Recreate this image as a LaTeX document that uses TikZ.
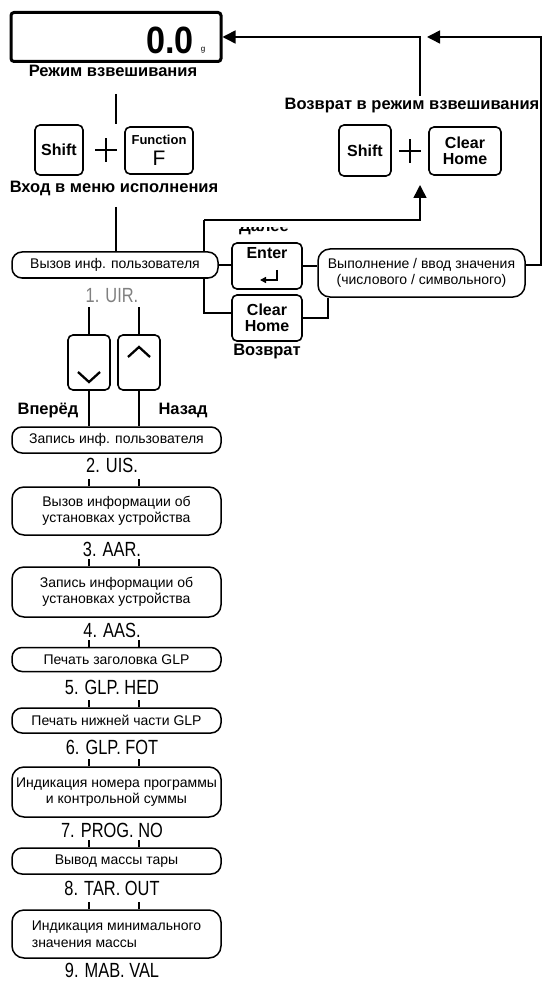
\documentclass[tikz,border=0pt]{standalone}
\usepackage{fontspec}
\usepackage{graphicx}
\setmainfont{Liberation Sans}
\usetikzlibrary{arrows.meta,calc}
\newcommand\cnd[1]{\scalebox{0.8}[1]{#1}}
\begin{document}
\begin{tikzpicture}[x=1pt,y=-1pt,line width=1.5pt,
  lbox/.style={draw,fill=white,rounded corners=10pt,minimum width=209pt,inner sep=0pt,align=center,font=\fontsize{14}{16.5}\selectfont},
  keybox/.style={draw,fill=white,rounded corners=5pt,inner sep=0pt,align=center,line width=1.6pt,font=\fontsize{16}{17.5}\bfseries\selectfont},
  lbl/.style={inner sep=0pt,font=\fontsize{20.5}{20.5}\selectfont},
  bl/.style={inner sep=0pt,font=\fontsize{16.5}{18}\bfseries\selectfont},
  tip/.style={-{Triangle[length=13pt,width=13pt]}},
  chev/.style={line width=2.3pt}]
\useasboundingbox (0,0) rectangle (542,981);

% display
\node[draw,line width=3pt,rounded corners=3pt,minimum width=210pt,minimum height=49pt] (disp) at (116,37) {};
\node[inner sep=0pt,font=\fontsize{38}{38}\bfseries\selectfont] (num) at (170,40) {\scalebox{0.9}[1]{0.0}};
\node[inner sep=0pt,font=\fontsize{8}{8}\selectfont] (gr) at (203,50) {g};
\node[bl] (mode) at (113,71) {Режим взвешивания};

% entry keys
\node[keybox,minimum width=48pt,minimum height=50pt] (sh1) at (59,150) {Shift};
\node[keybox,minimum width=68pt,minimum height=47pt] (fn) at (159,150.5) {\fontsize{13}{13}\selectfont Function\\[3pt]\fontsize{21}{21}\mdseries F};
\coordinate (p1) at (106,150);
\draw[line width=1.3pt] ([xshift=-11pt]p1) -- ([xshift=11pt]p1) ([yshift=-12pt]p1) -- ([yshift=12pt]p1);
\node[bl] (entry) at (114,188) {Вход в меню исполнения};
\coordinate (t1) at (116,94);
\coordinate (t2) at (116,124);
\coordinate (t3) at (116,207);
\draw (t1) -- (t2);

% return keys
\node[bl,inner sep=2pt] (ret) at (412,106) {Возврат в режим взвешивания};
\node[keybox,minimum width=52pt,minimum height=51pt] (sh2) at (365,150.5) {Shift};
\node[keybox,minimum width=72pt,minimum height=48pt] (ck1) at (465,151) {Clear\\[-2pt]Home};
\coordinate (p2) at (410,151);
\draw[line width=1.3pt] ([xshift=-11pt]p2) -- ([xshift=11pt]p2) ([yshift=-12pt]p2) -- ([yshift=12pt]p2);

% item 1 and its keys
\node[lbl,text=gray] (l1) at (112,296) {\cnd{1. UIR.}};
\node[keybox,minimum width=70pt,minimum height=46pt] (ent) at (267,266) {Enter\\[9pt]};
\draw[line width=1.6pt,-{Triangle[length=6pt,width=6pt]}] ([shift={(10,4)}]ent.center) -- ([shift={(10,14)}]ent.center) -- ([shift={(-7,14)}]ent.center);
\node[keybox,minimum width=70pt,minimum height=46pt] (ck2) at (267,318) {Clear\\[-2pt]Home};
\node[bl] (back) at (267,352) {Возврат};
\begin{scope}
\clip (225,228) rectangle (310,242);
\node[bl] (next) at (264,227) {Далее};
\end{scope}
\node[lbox,rounded corners=12pt,minimum width=207pt,minimum height=48pt] (vyp) at (421.5,273) {Выполнение / ввод значения\\(числового / символьного)};

\coordinate (lt) at (204,220);
\coordinate (ut) at (420,220);
\coordinate (ktip) at (420,185);
\coordinate (jn) at (420,37);
\coordinate (jn2) at (427,37);
\coordinate (tr) at (541,37);

\draw (lt) |- ([yshift=5pt]ck2.west);
\draw[tip] (lt) -- (ut) -- (ktip);
\node[lbox,minimum width=206pt,minimum height=26pt] (b0) at (115,265) {Вызов инф. пользователя};
\draw (t3) -- (b0.north -| t3);
\draw (b0.east) -- (b0.east -| ent.west);
\draw (ent.east) -- (ent.east -| vyp.west);
\draw (ck2.east) -| ([xshift=-93.5pt]vyp.south);
\draw[tip] ([yshift=8pt]vyp.east) -| (tr) -- (jn2);
\draw[tip] (ret.north -| jn) -- (jn) -- (disp.east);

% up/down keys
\node[keybox,minimum width=42pt,minimum height=55pt] (kd) at (89,362.5) {};
\node[keybox,minimum width=42pt,minimum height=55pt] (ku) at (139,362.5) {};
\draw[chev] ([shift={(-11,9.5)}]kd.center) -- ([shift={(0,19.5)}]kd.center) -- ([shift={(11,9.5)}]kd.center);
\draw[chev] ([shift={(-11,-5.5)}]ku.center) -- ([shift={(0,-15.5)}]ku.center) -- ([shift={(11,-5.5)}]ku.center);
\draw (kd.north) -- ++(0,-27);
\draw (ku.north) -- ++(0,-27);
\node[bl] (fwd) at (48,410) {Вперёд};
\node[bl] (bk) at (183,410) {Назад};

% list
\node[lbox,minimum height=26pt] (b1) at (116.5,440) {Запись инф. пользователя};
\draw (kd.south) -- (kd.south |- b1.north);
\draw (ku.south) -- (ku.south |- b1.north);
\node[lbl] (l2) at (112,465) {\cnd{2. UIS.}};
\node[lbox,rounded corners=12pt,minimum height=48pt] (b2) at (116.5,511) {Вызов информации об\\установках устройства};
\node[lbl] (l3) at (112,549) {\cnd{3. AAR.}};
\node[lbox,rounded corners=12pt,minimum height=50pt] (b3) at (116.5,592) {Запись информации об\\установках устройства};
\node[lbl] (l4) at (112,630) {\cnd{4. AAS.}};
\node[lbox,minimum height=24pt] (b4) at (116.5,659.5) {Печать заголовка GLP};
\node[lbl] (l5) at (112,687) {\cnd{5. GLP. HED}};
\node[lbox,minimum height=25pt] (b5) at (116.5,720.5) {Печать нижней части GLP};
\node[lbl] (l6) at (112,747) {\cnd{6. GLP. FOT}};
\node[lbox,rounded corners=12pt,minimum height=50pt] (b6) at (116.5,792) {Индикация номера программы\\и контрольной суммы};
\node[lbl] (l7) at (112,830) {\cnd{7. PROG. NO}};
\node[lbox,minimum height=26pt] (b7) at (116.5,861) {Вывод массы тары};
\node[lbl] (l8) at (112,888) {\cnd{8. TAR. OUT}};
\node[lbox,rounded corners=12pt,minimum height=48pt,align=left] (b8) at (116.5,934) {Индикация минимального\\значения массы};
\node[lbl] (l9) at (112,970) {\cnd{9. MAB. VAL}};

\foreach \b in {b2,b3,b4,b5,b6,b7,b8}{
  \draw (\b.north -| kd.south) -- ++(0,-7);
  \draw (\b.north -| ku.south) -- ++(0,-7);
}
\end{tikzpicture}
\end{document}
